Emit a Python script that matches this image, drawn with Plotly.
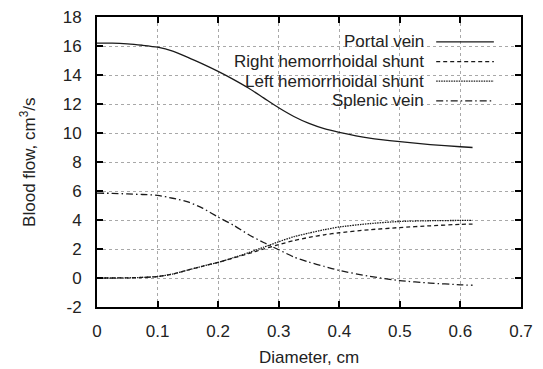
import plotly.graph_objects as go

# Blood flow through the portal system versus shunt diameter
diameter = [0, 0.025, 0.05, 0.075, 0.1, 0.125, 0.15, 0.175, 0.2, 0.225, 0.25, 0.275,
            0.3, 0.325, 0.35, 0.375, 0.4, 0.45, 0.5, 0.55, 0.6, 0.62]
portal_vein = [16.2, 16.2, 16.15, 16.05, 15.92, 15.65, 15.22, 14.75, 14.25, 13.7, 13.1, 12.42,
               11.74, 11.14, 10.66, 10.3, 10.05, 9.65, 9.4, 9.2, 9.05, 9.0]
right_shunt = [0, 0, 0.01, 0.04, 0.1, 0.27, 0.55, 0.82, 1.08, 1.38, 1.68, 2.0,
               2.3, 2.58, 2.8, 2.98, 3.12, 3.33, 3.48, 3.6, 3.7, 3.72]
left_shunt = [0, 0, 0.01, 0.04, 0.1, 0.27, 0.55, 0.82, 1.08, 1.4, 1.74, 2.12,
              2.5, 2.85, 3.1, 3.33, 3.52, 3.75, 3.9, 3.95, 3.97, 3.97]
splenic_vein = [5.85, 5.84, 5.8, 5.76, 5.7, 5.5, 5.25, 4.8, 4.2, 3.65, 3.0, 2.45,
                1.95, 1.45, 1.1, 0.8, 0.52, 0.12, -0.18, -0.35, -0.47, -0.5]

series_names = ["Portal vein", "Right hemorrhoidal shunt", "Left hemorrhoidal shunt", "Splenic vein"]
series_values = [portal_vein, right_shunt, left_shunt, splenic_vein]
dashes = ["solid", "4px,3px", "1.5px,1px", "7px,3px,1.5px,3px"]

x_ticks = [0, 0.1, 0.2, 0.3, 0.4, 0.5, 0.6, 0.7]
x_tick_labels = ["0", "0.1", "0.2", "0.3", "0.4", "0.5", "0.6", "0.7"]
y_ticks = [-2, 0, 2, 4, 6, 8, 10, 12, 14, 16, 18]
y_tick_labels = ["-2", "0", "2", "4", "6", "8", "10", "12", "14", "16", "18"]

FONT = "Liberation Sans, Arial, sans-serif"
INK = "#222222"

fig = go.Figure()
for name, vals, dash in zip(series_names, series_values, dashes):
    fig.add_trace(go.Scatter(
        x=diameter, y=vals, name=name, mode="lines",
        line=dict(color="#1a1a1a", width=1.3, dash=dash, shape="spline", smoothing=0.6),
        showlegend=False,
    ))

# opaque key box hides the grid behind the legend
fig.add_shape(type="rect", xref="paper", yref="paper", x0=0.085, x1=1, y0=0.67, y1=1,
              fillcolor="white", line=dict(width=0), layer="between")

# key: right-aligned labels with line samples to their right
key_rows = [0.914, 0.846, 0.779, 0.711]
for name, dash, ky in zip(series_names, dashes, key_rows):
    fig.add_annotation(x=0.776, y=ky, xref="paper", yref="paper", text=name,
                       showarrow=False, xanchor="right", yanchor="middle",
                       font=dict(family=FONT, size=17, color=INK))
    fig.add_shape(type="line", xref="paper", yref="paper", x0=0.80, x1=0.936, y0=ky, y1=ky,
                  line=dict(color="#1a1a1a", width=1.3, dash=dash), layer="above")

# axis titles
fig.add_annotation(x=0.5, y=-0.174, xref="paper", yref="paper", text="Diameter, cm",
                   showarrow=False, xanchor="center", yanchor="middle",
                   font=dict(family=FONT, size=17, color=INK))
fig.add_annotation(x=-0.163, y=0.5, xref="paper", yref="paper", text="Blood flow, cm<sup>3</sup>/s",
                   showarrow=False, xanchor="center", yanchor="middle", textangle=-90,
                   font=dict(family=FONT, size=17, color=INK))

axis_common = dict(
    showline=True, linecolor="black", linewidth=2, mirror="allticks",
    ticks="inside", ticklen=6, tickwidth=1.5, tickcolor="black",
    showgrid=True, gridcolor="#a8a8a8", griddash="dot", gridwidth=1,
    zeroline=False, tickfont=dict(family=FONT, size=17, color=INK),
    automargin=False,
)

fig.update_xaxes(range=[0, 0.7], tickvals=x_ticks, ticktext=x_tick_labels,
                 ticklabelstandoff=8, **axis_common)
fig.update_yaxes(range=[-2, 18], tickvals=y_ticks, ticktext=y_tick_labels,
                 ticklabelstandoff=10, **axis_common)

fig.update_layout(
    width=543, height=369,
    margin=dict(l=97, r=22, t=17, b=62),
    paper_bgcolor="white", plot_bgcolor="white",
    showlegend=False,
)

fig.write_html("out.html")
